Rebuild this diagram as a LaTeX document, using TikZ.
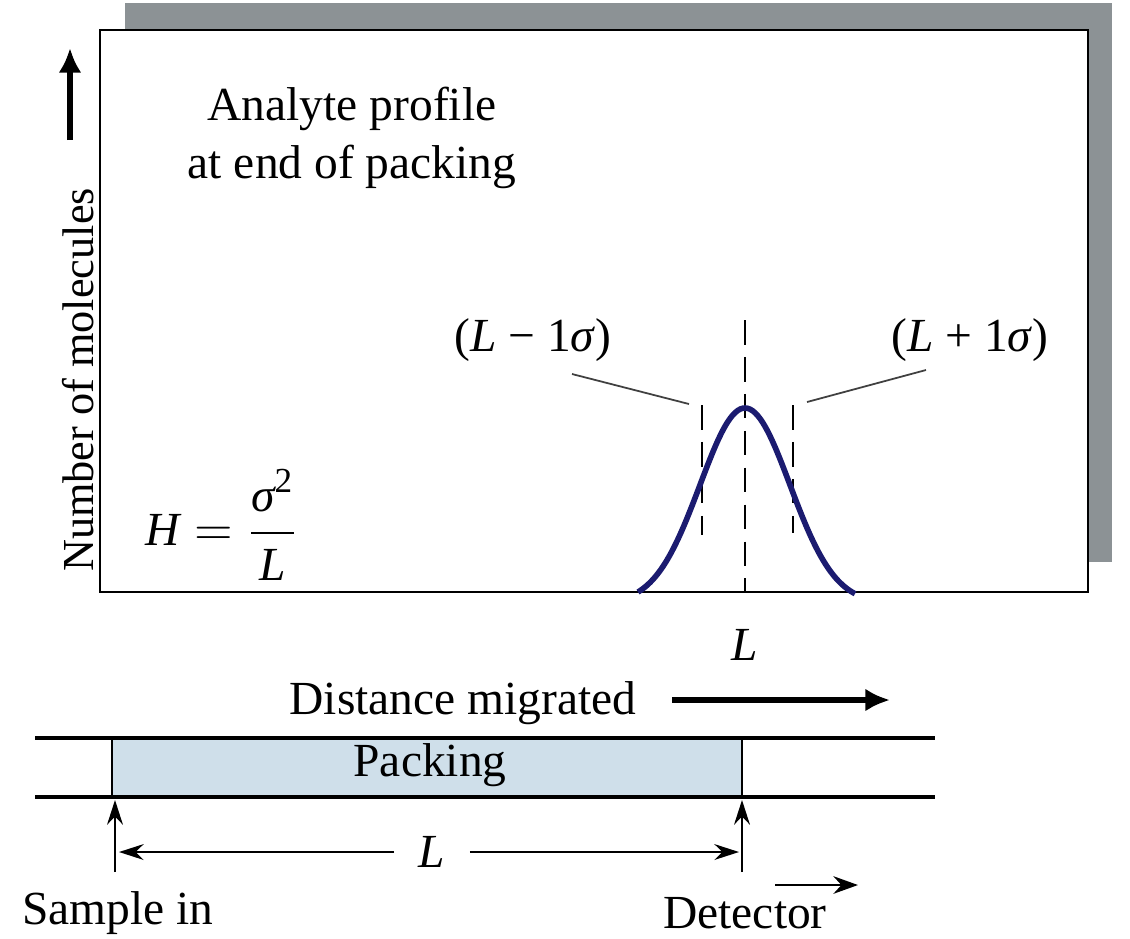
\documentclass[tikz,border=0pt]{standalone}
\usepackage{fontspec}
\setmainfont{Liberation Serif}
\usepackage{amsmath}
\usetikzlibrary{arrows.meta,positioning}
\definecolor{peak}{HTML}{1B1B70}
\definecolor{packfill}{HTML}{CFDFEA}
\definecolor{shadowgray}{HTML}{8C9295}

\begin{document}
\begin{tikzpicture}[x=0.01cm,y=-0.01cm,font=\fontsize{13.5}{16.5}\selectfont,
  tube/.style={line width=0.9pt},
  marker/.style={line width=0.7pt,dash pattern=on 7pt off 3.5pt},
  leader/.style={line width=0.5pt,black!75},
  uparrow/.style={line width=0.6pt,-{Stealth[length=7pt,width=4.5pt]}},
  dimarrow/.style={line width=0.6pt,-{Stealth[length=7pt,width=4.5pt]}}]
  \useasboundingbox (0,0) rectangle (1130,938);

  % Plot frame with shadow
  \fill[shadowgray] (125,3) rectangle (1112,562);
  \draw[line width=0.8pt,fill=white] (100,30) rectangle (1088,592);

  % Axis label
  \node[rotate=90,font=\fontsize{12.6}{15}\selectfont] (ylab) at (78,380) {Number of molecules};
  \draw[line width=1.8pt,-{Latex[length=7pt,width=6.5pt]}] (70,140) -- (70,48);

  \node[align=center] (profile) at (352,138) {Analyte profile\\at end of packing};
  \node (plate) at (222,525) {$\textit{H} = \dfrac{\textit{σ}^{\text{\fontsize{10}{11}\selectfont 2}}}{\textit{L}}$};

  % Band and sigma markers
  \coordinate (ctop) at (745,320);
  \coordinate (cbot) at (745,592);
  \draw[marker] (ctop) -- (cbot);
  \draw[marker] (702,405) -- (702,535);
  \draw[marker] (793,405) -- (793,533);
  \draw[peak,line width=1.6pt] plot[domain=638:855,samples=90,smooth]
    (\x,{592-184*(exp(-((\x-745)*(\x-745))/4050)-0.0592)/0.9408});

  \node (lminus) at (533,340) {(\textit{L} − 1\textit{σ})};
  \node (lplus) at (970,340) {(\textit{L} + 1\textit{σ})};
  \coordinate (lmtip) at (689,404);
  \coordinate (lptip) at (807,402);
  \draw[leader] (572,374) -- (lmtip);
  \draw[leader] (926,370) -- (lptip);
  \node (Lmark) at (745,645) {\textit{L}};

  % Column
  \node (dist) at (463,703) {Distance migrated};
  \draw[line width=1.8pt,-{Latex[length=7pt,width=6.5pt]}] (672,700) -- (890,700);
  \fill[packfill] (112,738) rectangle (742,797);
  \draw[line width=0.5pt] (112,738) -- (112,797) (742,738) -- (742,797);
  \draw[tube] (35,738) -- (935,738);
  \draw[tube] (35,797) -- (935,797);
  \node (packing) at (430,765) {Packing};

  \node (sample) at (118,913) {Sample in};
  \node (detector) at (745,913) {Detector};
  \draw[uparrow] (115,872) -- (115,800);
  \draw[uparrow] (742,872) -- (742,800);
  \node[inner xsep=0.24cm] (Ldim) at (432,852) {\textit{L}};
  \draw[dimarrow] (Ldim.west) -- (119,852);
  \draw[dimarrow] (Ldim.east) -- (739,852);
  \draw[line width=0.7pt,-{Stealth[length=7pt,width=5pt]}] (775,885) -- (858,885);
\end{tikzpicture}
\end{document}
